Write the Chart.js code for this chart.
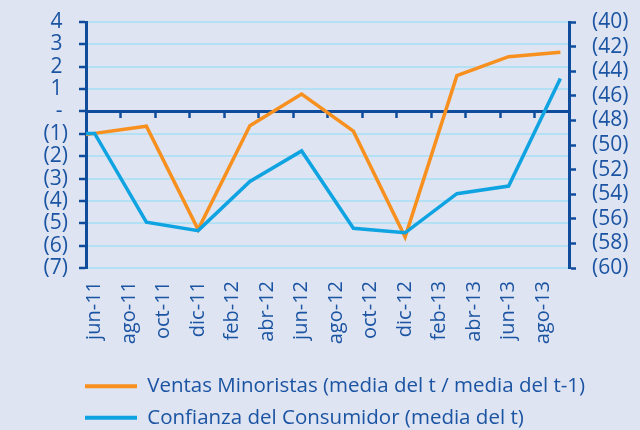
<!DOCTYPE html>
<html>
<head>
<meta charset="utf-8">
<script src="https://cdn.jsdelivr.net/npm/chart.js@4.4.1/dist/chart.umd.min.js"></script>
<style>
  html, body { margin: 0; padding: 0; background: #dee4f2; }
  canvas { display: block; }
</style>
</head>
<body>
<canvas id="chart" width="640" height="430"></canvas>
<script>
// labels on the bottom axis, one every two months
const tickLabels = ['jun-11', 'ago-11', 'oct-11', 'dic-11', 'feb-12', 'abr-12', 'jun-12',
  'ago-12', 'oct-12', 'dic-12', 'feb-13', 'abr-13', 'jun-13', 'ago-13'];

// quarterly observations (mar-11 lies left of the plot, only its stub shows)
const periods = ['mar-11', 'jun-11', 'sep-11', 'dic-11', 'mar-12', 'jun-12', 'sep-12',
  'dic-12', 'mar-13', 'jun-13', 'sep-13'];
const ventasMinoristas = [-1.3, -0.98, -0.66, -5.28, -0.64, 0.78, -0.88, -5.62, 1.6, 2.45, 2.65];
const confianzaConsumidor = [-49.1, -49.06, -56.28, -56.96, -52.96, -50.48, -56.77, -57.14, -53.96, -53.34, -44.6];

const monthNames = ['ene', 'feb', 'mar', 'abr', 'may', 'jun', 'jul', 'ago', 'sep', 'oct', 'nov', 'dic'];

// months counted from jun-11
function monthIndex(label) {
  const parts = label.split('-');
  return (Number(parts[1]) - 11) * 12 + monthNames.indexOf(parts[0]) - 5;
}

const xMin = monthIndex(tickLabels[0]) - 0.5;
const xMax = monthIndex(periods[periods.length - 1]) + 0.5;

const axisBlue = '#0f4c9c';
const textBlue = '#1b54a2';
const gridBlue = '#b2e1f6';
const orange = '#f7901e';
const lightBlue = '#0fa3e2';
const font = 'Open Sans';

function toPoints(values) {
  return periods.map((p, i) => ({ x: monthIndex(p), y: values[i] }));
}

function leftLabel(v) {
  if (v === 0) return '- ';
  return v < 0 ? '(' + (-v) + ')' : v + ' ';
}

// fixed axis widths, and no extra room above/below for the tick labels
function fitY(width) {
  return axis => {
    axis.width = width;
    axis.paddingTop = 0;
    axis.paddingBottom = 0;
  };
}

// move the legend under the plot, lined up with the y axis
const legendShift = {
  id: 'legendShift',
  afterLayout(chart) {
    const lg = chart.legend;
    lg.left += 74;
    lg.right += 74;
    lg.top += 8;
    lg.bottom += 8;
  }
};

const config = {
  type: 'line',
  data: {
    datasets: [{
      label: 'Ventas Minoristas (media del t / media del t-1)',
      data: toPoints(ventasMinoristas),
      borderColor: orange,
      backgroundColor: orange,
      borderWidth: 3.5,
      pointRadius: 0,
      xAxisID: 'x',
      yAxisID: 'y',
      order: 2
    }, {
      label: 'Confianza del Consumidor (media del t)',
      data: toPoints(confianzaConsumidor),
      borderColor: lightBlue,
      backgroundColor: lightBlue,
      borderWidth: 3.5,
      pointRadius: 0,
      xAxisID: 'x',
      yAxisID: 'y2',
      order: 1
    }]
  },
  options: {
    responsive: false,
    animation: false,
    layout: { padding: { top: 22, left: 0, right: 0, bottom: 0 } },
    scales: {
      // zero line with month tick marks
      x: {
        type: 'linear',
        axis: 'x',
        position: { y: 0 },
        min: xMin,
        max: xMax,
        afterBuildTicks: axis => {
          axis.ticks = tickLabels.map(l => ({ value: monthIndex(l) - 0.5 }));
          axis.ticks.push({ value: xMax });
        },
        ticks: { display: true, autoSkip: false, maxRotation: 0, color: 'rgba(0,0,0,0)', callback: () => '' },
        grid: { drawOnChartArea: false, drawTicks: true, tickLength: 5, tickColor: axisBlue, tickWidth: 2.5 },
        border: { display: true, color: axisBlue, width: 3 }
      },
      xl: {
        type: 'linear',
        axis: 'x',
        position: 'bottom',
        min: xMin,
        max: xMax,
        afterBuildTicks: axis => {
          axis.ticks = tickLabels.map(l => ({ value: monthIndex(l) }));
        },
        afterFit: axis => { axis.height = 89; },
        ticks: {
          autoSkip: false,
          maxRotation: 90,
          minRotation: 90,
          padding: 13,
          color: textBlue,
          font: { family: font, size: 20 },
          callback: (v, i) => tickLabels[i]
        },
        grid: { display: false, drawTicks: false },
        border: { display: false }
      },
      y: {
        position: 'left',
        min: -7,
        max: 4,
        afterFit: fitY(86),
        ticks: {
          stepSize: 1,
          autoSkip: false,
          padding: 11,
          color: textBlue,
          font: { family: font, size: 21 },
          callback: v => leftLabel(v)
        },
        grid: {
          color: c => (c.tick && c.tick.value === 0) ? 'rgba(0,0,0,0)' : gridBlue,
          lineWidth: 2,
          tickColor: axisBlue,
          tickWidth: 2.5,
          tickLength: 7
        },
        border: { color: axisBlue, width: 3 }
      },
      y2: {
        position: 'right',
        min: -60,
        max: -40,
        afterFit: fitY(71),
        ticks: {
          stepSize: 2,
          autoSkip: false,
          padding: 16,
          color: textBlue,
          font: { family: font, size: 21 },
          callback: v => '(' + Math.abs(v) + ')'
        },
        grid: {
          drawOnChartArea: false,
          tickColor: axisBlue,
          tickWidth: 2.5,
          tickLength: 7
        },
        border: { color: axisBlue, width: 3 }
      }
    },
    plugins: {
      legend: {
        position: 'bottom',
        align: 'start',
        labels: {
          boxWidth: 52,
          boxHeight: 4,
          padding: 11,
          color: textBlue,
          font: { family: font, size: 20.5 },
          sort: (a, b) => a.datasetIndex - b.datasetIndex,
          generateLabels: chart => Chart.defaults.plugins.legend.labels.generateLabels(chart)
            .map(item => Object.assign(item, { fillStyle: item.strokeStyle, lineWidth: 0 }))
        }
      },
      tooltip: { enabled: false }
    }
  },
  plugins: [legendShift]
};

new Chart(document.getElementById('chart'), config);
</script>
</body>
</html>
